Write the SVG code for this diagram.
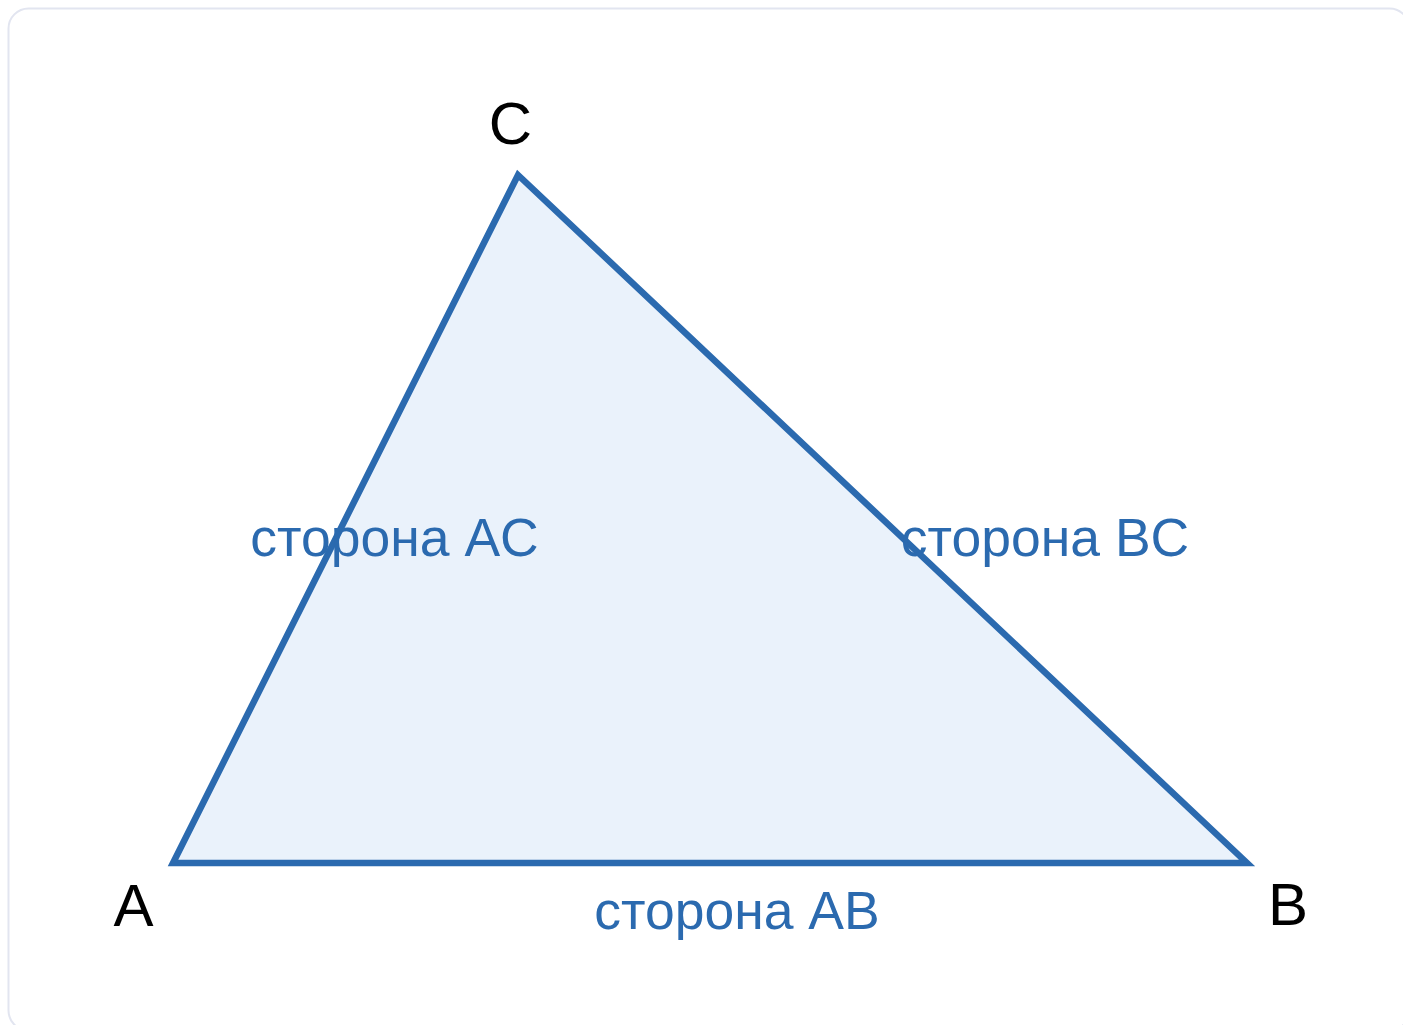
<svg xmlns="http://www.w3.org/2000/svg" width="1403" height="1025" viewBox="0 0 1403 1025">
<style>
.frame{fill:#ffffff;stroke:#e2e5f0;stroke-width:2}
.tri{fill:#eaf2fb;stroke:#2b6aaf;stroke-width:6.5;stroke-linejoin:miter}
.vlabel{font-family:"Liberation Sans",Arial,sans-serif;font-size:60px;fill:#000000;text-anchor:middle}
.slabel{font-family:"Liberation Sans",Arial,sans-serif;font-size:53.5px;fill:#2b6aaf;text-anchor:middle}
</style>
<rect width="1403" height="1025" fill="#ffffff"/>
<rect class="frame" x="8.5" y="8.5" width="1401" height="1022" rx="20" ry="20"/>
<g id="triangle">
<polygon class="tri" points="173,863 1247,863 518,175"/>
</g>
<g id="connectors"></g>
<g id="vertex-C"><text class="vlabel" x="510.5" y="144">C</text></g>
<g id="vertex-A"><text class="vlabel" x="133.5" y="926">A</text></g>
<g id="vertex-B"><text class="vlabel" x="1288" y="925">B</text></g>
<g id="side-AC"><text class="slabel" x="394.5" y="556">сторона AC</text></g>
<g id="side-BC"><text class="slabel" x="1045" y="556">сторона BC</text></g>
<g id="side-AB"><text class="slabel" x="737" y="929">сторона AB</text></g>
</svg>
